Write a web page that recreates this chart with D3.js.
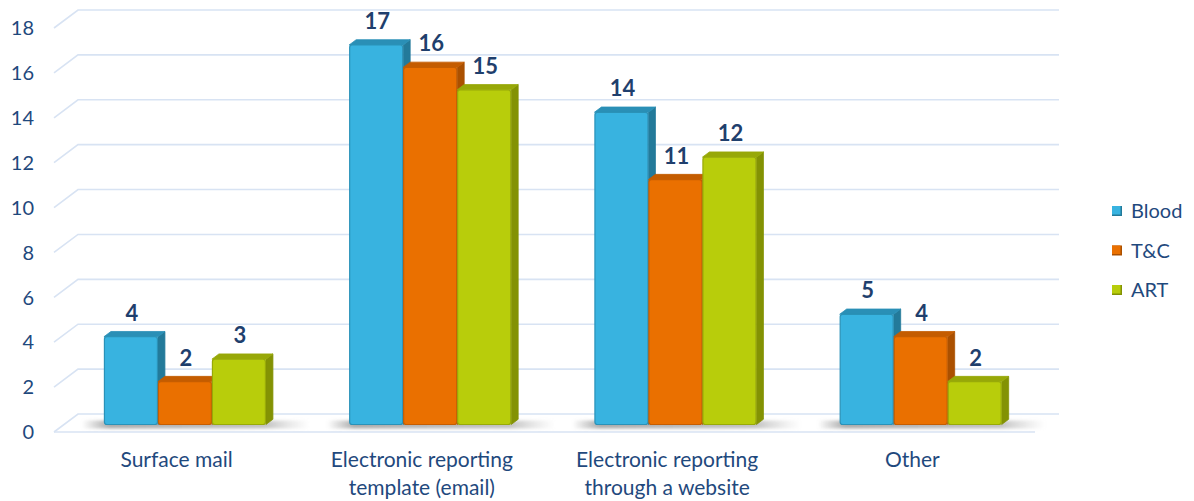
<!DOCTYPE html>
<html>
<head>
<meta charset="utf-8">
<script src="https://cdn.jsdelivr.net/npm/d3@7"></script>
<style>
  html, body { margin: 0; padding: 0; background: #fff; }
  svg { display: block; font-family: Lato, "Open Sans", sans-serif; }
</style>
</head>
<body>
<svg id="chart" width="1194" height="501"></svg>
<script>
// Reporting channels used, counted per area
const categories = [
  ["Surface mail"],
  ["Electronic reporting", "template (email)"],
  ["Electronic reporting", "through a website"],
  ["Other"]
];
const seriesNames = ["Blood", "T&C", "ART"];
const blood = [4, 17, 14, 5];
const tc = [2, 16, 11, 4];
const art = [3, 15, 12, 2];
const yTicks = [0, 2, 4, 6, 8, 10, 12, 14, 16, 18];

const seriesValues = [blood, tc, art];
const fronts = ["#38b3e0", "#ea7000", "#b8cd0b"];
const tops   = ["#2a8fb6", "#c45c00", "#97a808"];
const sides  = ["#237a9a", "#ab5000", "#839204"];
const edges  = ["#2a92b8", "#c65d00", "#98aa08"];
const textColor = "#1f497d";
const labelColor = "#1f3f6d";

const svg = d3.select("#chart");
const defs = svg.append("defs");

// oblique depth of the plot box
const depthX = 24, depthY = -18;
const floorLeft = 54, floorRight = 1035;

const x0 = d3.scaleBand()
  .domain(d3.range(categories.length))
  .range([floorLeft, floorRight]);
const bw = x0.bandwidth();
const groupShift = 8.3, groupHalf = 81;
const x1 = d3.scaleBand()
  .domain(d3.range(seriesNames.length))
  .range([bw / 2 - groupHalf + groupShift, bw / 2 + groupHalf + groupShift]);

// value scale on the back wall
const yBack = d3.scaleLinear().domain([0, 18]).range([414, 10]);
const frontOff = -depthY;      // front edge of the floor
const barOff = 12.5;           // plane where bar faces sit
const barDX = 7, barDY = -5.25; // bar depth

// gridlines: diagonal on the left side wall, then along the back wall
const grid = svg.append("g")
  .attr("fill", "none")
  .attr("stroke", "#d8e3f3")
  .attr("stroke-width", 1.6);
yTicks.forEach(t => {
  const yb = yBack(t);
  grid.append("path")
    .attr("d", `M${floorLeft},${yb + frontOff} L${floorLeft + depthX},${yb} L${floorRight + depthX},${yb}`);
});
// front edge of the floor
grid.append("line")
  .attr("x1", floorLeft).attr("x2", floorRight)
  .attr("y1", yBack(0) + frontOff).attr("y2", yBack(0) + frontOff);

// tick labels
svg.append("g")
  .selectAll("text")
  .data(yTicks)
  .join("text")
  .attr("x", 34)
  .attr("y", d => yBack(d) + frontOff)
  .attr("dy", "0.36em")
  .attr("text-anchor", "end")
  .attr("fill", textColor)
  .attr("font-size", 20)
  .text(d => d);

// floor shadow gradient behind each group
const sg = defs.append("linearGradient").attr("id", "shadowGrad")
  .attr("x1", 0).attr("x2", 1).attr("y1", 0).attr("y2", 0);
sg.append("stop").attr("offset", 0).attr("stop-color", "#888").attr("stop-opacity", 0);
sg.append("stop").attr("offset", 0.12).attr("stop-color", "#888").attr("stop-opacity", 0.7);
sg.append("stop").attr("offset", 0.8).attr("stop-color", "#999").attr("stop-opacity", 0.6);
sg.append("stop").attr("offset", 1).attr("stop-color", "#bbb").attr("stop-opacity", 0);
defs.append("filter").attr("id", "soft")
  .attr("x", "-20%").attr("y", "-100%").attr("width", "140%").attr("height", "300%")
  .append("feGaussianBlur").attr("stdDeviation", 1.6);

const groups = svg.append("g")
  .selectAll("g")
  .data(categories.map((c, i) => i))
  .join("g")
  .attr("transform", i => `translate(${x0(i)},0)`);

groups.append("rect")
  .attr("x", x1(0) - 22)
  .attr("y", yBack(0) + barOff - 6)
  .attr("width", x1(2) + x1.bandwidth() - x1(0) + 66)
  .attr("height", 8)
  .attr("fill", "url(#shadowGrad)")
  .attr("filter", "url(#soft)");

const barBottom = yBack(0) + barOff - 2;

groups.each(function (ci) {
  const g = d3.select(this);
  seriesNames.forEach((s, si) => {
    const v = seriesValues[si][ci];
    const xl = x1(si), xr = xl + x1.bandwidth();
    const yt = yBack(v) + barOff;
    // side face
    g.append("path")
      .attr("d", `M${xr},${yt} L${xr + barDX},${yt + barDY} L${xr + barDX},${barBottom + barDY} L${xr},${barBottom} Z`)
      .attr("fill", sides[si])
      .attr("stroke", sides[si]).attr("stroke-width", 0.8).attr("stroke-linejoin", "round");
    // top face
    g.append("path")
      .attr("d", `M${xl},${yt} L${xl + barDX},${yt + barDY} L${xr + barDX},${yt + barDY} L${xr},${yt} Z`)
      .attr("fill", tops[si])
      .attr("stroke", tops[si]).attr("stroke-width", 0.8).attr("stroke-linejoin", "round");
    // front face
    g.append("rect")
      .attr("x", xl + 0.5).attr("y", yt)
      .attr("width", x1.bandwidth() - 1).attr("height", barBottom - yt)
      .attr("rx", 2.5)
      .attr("fill", fronts[si])
      .attr("stroke", edges[si]).attr("stroke-width", 1.2);
    // value label
    g.append("text")
      .attr("x", (xl + xr) / 2 + 1)
      .attr("y", yt - 16)
      .attr("text-anchor", "middle")
      .attr("fill", labelColor)
      .attr("font-size", 22)
      .attr("font-weight", "bold")
      .text(v);
  });
});

// category labels
groups.append("text")
  .attr("x", bw / 2)
  .attr("fill", textColor)
  .attr("font-size", 21)
  .attr("text-anchor", "middle")
  .selectAll("tspan")
  .data(i => categories[i])
  .join("tspan")
  .attr("x", bw / 2)
  .attr("y", (d, k) => 467 + k * 28)
  .text(d => d);

// legend
const legend = svg.append("g")
  .selectAll("g")
  .data(seriesNames)
  .join("g")
  .attr("transform", (d, i) => `translate(1112,${211 + i * 39.5})`);
legend.append("rect")
  .attr("x", 0).attr("y", -5)
  .attr("width", 10).attr("height", 10)
  .attr("fill", (d, i) => sides[i]);
legend.append("rect")
  .attr("x", 0).attr("y", -5)
  .attr("width", 8.5).attr("height", 8.5)
  .attr("fill", (d, i) => fronts[i]);
legend.append("text")
  .attr("x", 19)
  .attr("dy", "0.35em")
  .attr("fill", textColor)
  .attr("font-size", 20)
  .text(d => d);
</script>
</body>
</html>
